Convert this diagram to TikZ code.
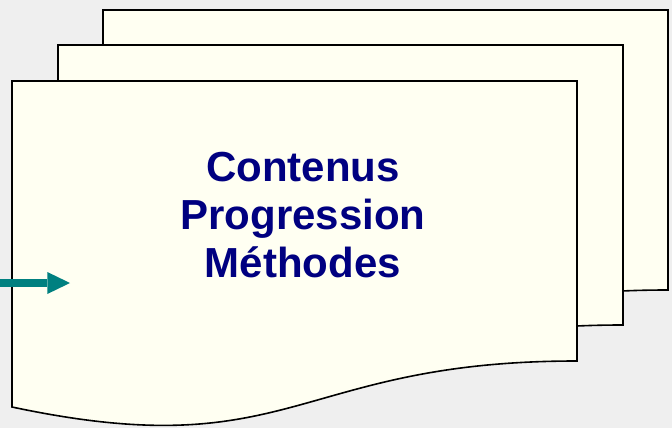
\documentclass[tikz,border=0pt]{standalone}
\usepackage{fontspec}
\setmainfont{Liberation Sans}
\usetikzlibrary{arrows.meta}
\definecolor{fond}{HTML}{EFEFEF}
\definecolor{papier}{HTML}{FFFFF2}
\definecolor{marine}{HTML}{000080}
\definecolor{sarcelle}{HTML}{008080}

\begin{document}
\begin{tikzpicture}[x=0.75pt, y=-0.75pt,
  feuille/.style={draw=black, fill=papier, line width=1.2pt, line join=miter},
  fleche/.style={-{Triangle[length=17pt, width=16.5pt, line width=0pt]}, sarcelle, line width=6pt},
  titre/.style={text=marine, font=\bfseries\fontsize{31.5}{36}\selectfont, align=center}]
  \fill[fond] (0,0) rectangle (672,428);
  \useasboundingbox (0,0) rectangle (672,428);
  % trois feuilles, de l'arriere vers l'avant
  \foreach \x/\y in {103/10, 58/45, 12/81} {
    \draw[feuille] (\x,\y) -- ({\x+565},\y) -- ({\x+565},{\y+280})
      .. controls ({\x+282},{\y+280}) and ({\x+282},{\y+386}) .. (\x,{\y+326}) -- cycle;
  }
  \node[titre, anchor=base] (texte) at (303,277) {Contenus\\Progression\\Méthodes};
  % fleche d'entree
  \coordinate (entree) at (0,283);
  \coordinate (pointe) at (70,283);
  \draw[fleche] (entree) -- (pointe);
\end{tikzpicture}
\end{document}
